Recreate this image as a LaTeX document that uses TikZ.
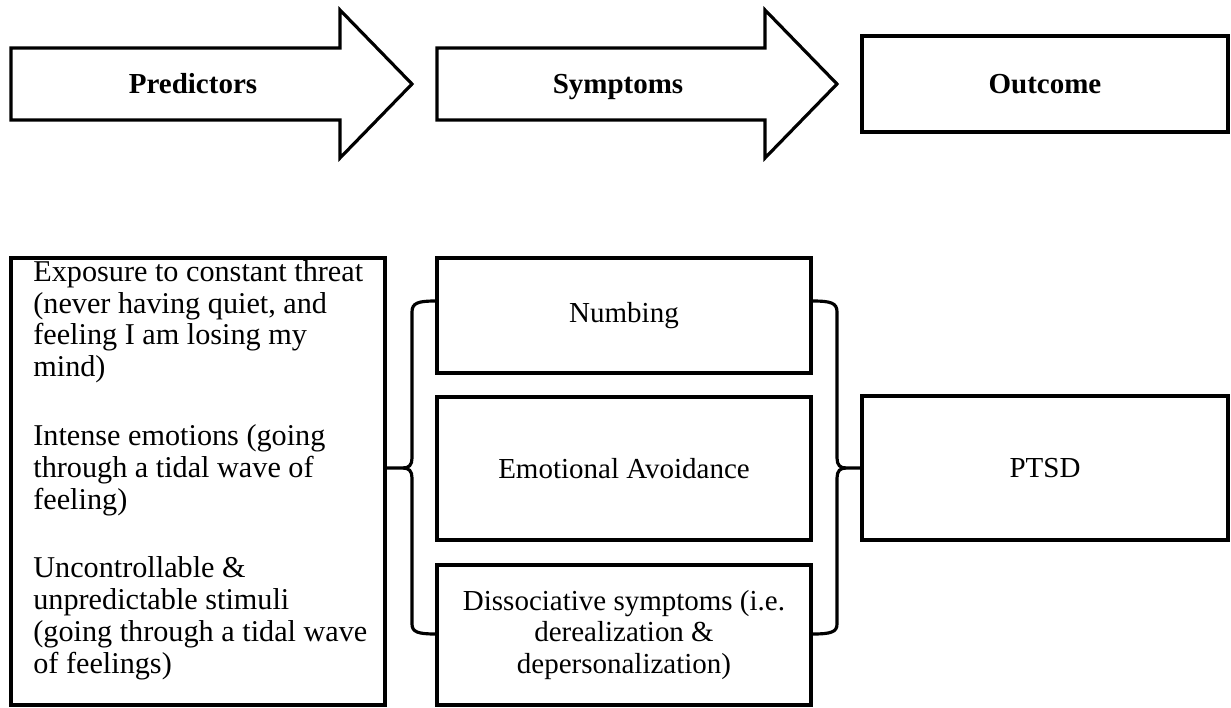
\documentclass[tikz,border=0pt]{standalone}
\usepackage{fontspec}
\setmainfont{Liberation Serif}

\begin{document}
\begin{tikzpicture}
        [   x=0.02cm, y=-0.02cm,
            BigArrow/.style=
            {draw, line width=1.8pt, line join=miter},
            TitleNode/.style=
            {font=\fontsize{16.5}{18}\selectfont\bfseries,
            text height=11pt, text depth=0pt},
            FactorBox/.style=
            {rectangle, draw, line width=1.8pt, inner sep=0pt,
            font=\fontsize{16.5}{18}\selectfont, align=center},
            BraceLine/.style=
            {draw, line width=1.8pt}
        ]
            \useasboundingbox (0,0) rectangle (1231,707);

            % stage arrows
            \draw[BigArrow] (11,48) -- (340,48) -- (340,10) -- (412,84)
                -- (340,158) -- (340,120) -- (11,120) -- cycle;
            \node[TitleNode] (predTitle) at (193,84) {Predictors};
            \draw[BigArrow] (437,48) -- (765,48) -- (765,10) -- (837,84)
                -- (765,158) -- (765,120) -- (437,120) -- cycle;
            \node[TitleNode] (sympTitle) at (618,84) {Symptoms};
            \node[FactorBox, minimum width=366*0.02cm, minimum height=96*0.02cm]
                (outBox) at (1045,84) {};
            \node[TitleNode] (outTitle) at (1045,84) {Outcome};

            % factors
            \node[FactorBox, minimum width=374*0.02cm, minimum height=447*0.02cm]
                (pred) at (198,481.5) {};
            \node[anchor=west, align=left, inner sep=0pt,
                font=\fontsize{17.2}{18.1}\selectfont] (predText) at (33,470)
                {Exposure to constant threat\\(never having quiet, and\\feeling I am losing my\\mind)\\[21pt]
                 Intense emotions (going\\through a tidal wave of\\feeling)\\[21pt]
                 Uncontrollable \&\\unpredictable stimuli\\(going through a tidal wave\\of feelings)};

            \node[FactorBox, minimum width=374*0.02cm, minimum height=115*0.02cm]
                (numb) at (624,315.5) {Numbing};
            \node[FactorBox, minimum width=374*0.02cm, minimum height=143*0.02cm]
                (emo) at (624,468.5) {Emotional Avoidance};
            \node[FactorBox, minimum width=374*0.02cm, minimum height=140*0.02cm]
                (diss) at (624,635) {Dissociative symptoms (i.e.\\derealization \&\\depersonalization)};

            \node[FactorBox, minimum width=366*0.02cm, minimum height=144*0.02cm]
                (ptsd) at (1045,468) {PTSD};

            % braces
            \coordinate (lbTop) at (412,301);
            \coordinate (lbTip) at (403,468);
            \coordinate (lbBot) at (412,634);
            \draw[BraceLine] (numb.west |- lbTop) .. controls (418,301) and (412,303) .. (412,312)
                -- (412,458) .. controls (412,465) and (409,468) .. (lbTip) -- (pred.east |- lbTip);
            \draw[BraceLine] (lbTip) .. controls (409,468) and (412,471) .. (412,478)
                -- (412,624) .. controls (412,632) and (418,634) .. (diss.west |- lbBot);

            \coordinate (rbTop) at (837,301);
            \coordinate (rbTip) at (846,468);
            \coordinate (rbBot) at (837,634);
            \draw[BraceLine] (numb.east |- rbTop) .. controls (831,301) and (837,303) .. (837,312)
                -- (837,458) .. controls (837,465) and (840,468) .. (rbTip) -- (ptsd.west);
            \draw[BraceLine] (rbTip) .. controls (840,468) and (837,471) .. (837,478)
                -- (837,624) .. controls (837,632) and (831,634) .. (diss.east |- rbBot);
    \end{tikzpicture}
\end{document}
